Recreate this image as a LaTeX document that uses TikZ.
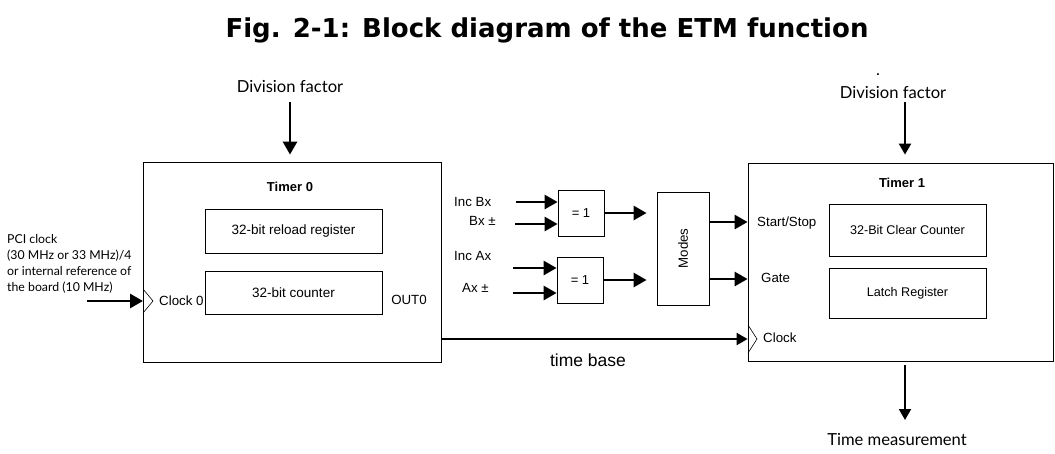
\documentclass[tikz,border=0pt]{standalone}
\usepackage{fontspec}
\setmainfont{Liberation Sans}
\newfontfamily\titlefont{DejaVu Sans}
\newfontfamily\labfont{Lato}
\usetikzlibrary{arrows.meta,positioning}

\begin{document}
\begin{tikzpicture}[x=1pt,y=-1pt,
  blk/.style={draw,line width=0.8pt,inner sep=0pt},
  reg/.style={blk,minimum width=177pt,minimum height=44pt,font=\fontsize{13.5}{15}\selectfont},
  xorbox/.style={blk,minimum width=46pt,minimum height=46pt,font=\fontsize{13}{15}\selectfont},
  lbl/.style={inner sep=0pt,font=\fontsize{13.3}{15}\selectfont},
  side/.style={inner sep=0pt,font=\labfont\fontsize{16.6}{19}\selectfont},
  hd/.style={inner sep=0pt,font=\bfseries\fontsize{13}{15}\selectfont},
  big/.style={line width=2.8pt,-{Triangle[length=13pt,width=14pt]}},
  med/.style={line width=2pt,-{Triangle[length=11pt,width=12pt]}}]
\useasboundingbox (0,0) rectangle (1055,453);

\node[font=\titlefont\bfseries\fontsize{26}{30}\selectfont] (title) at (547,30) {Fig. 2-1: Block diagram of the ETM function};

% timer 0
\node[blk,minimum width=298pt,minimum height=200pt] (t0) at (292,262) {};
\node[hd] (t0name) at (290,187) {Timer 0};
\node[reg] (reload) at (293.5,231) {32-bit reload register};
\node[reg,minimum height=43pt] (cnt) at (293.5,292.5) {32-bit counter};
\node[lbl,anchor=west] (clk0) at (159,301) {Clock 0};
\node[lbl] (out0) at (409,300) {OUT0};
\draw[line width=0.6pt] (143,289) -- (153,301) -- (143,313);
\coordinate (c0) at (143,301);

\node[side] (div0) at (290,87) {Division factor};
\coordinate (d0) at (290,102);
\draw[big,shorten >=7pt] (d0) -- (d0 |- t0.north);

\node[anchor=north west,align=left,inner sep=0pt,font=\labfont\fontsize{12.3}{16}\selectfont] (pci) at (7,234)
  {PCI clock\\(30 MHz or 33 MHz)/4\\or internal reference of\\the board (10 MHz)};
\coordinate (pciin) at (87,301);
\draw[big] (pciin) -- (c0);

% gates and modes
\node[xorbox] (xb) at (581,213) {= 1};
\node[xorbox] (xa) at (580,280) {= 1};
\node[blk,minimum width=52pt,minimum height=113pt] (modes) at (683,248.5) {};
\node[lbl,rotate=90] (modestxt) at (modes.center) {Modes};

\node[lbl,anchor=west] (incb) at (454,202) {Inc Bx};
\node[lbl,anchor=west] (bpm) at (469,221) {Bx ±};
\node[lbl,anchor=west] (inca) at (454,256) {Inc Ax};
\node[lbl,anchor=west] (apm) at (462,288) {Ax ±};

\coordinate (ib1) at (516,202);
\coordinate (ib2) at (515,224);
\coordinate (ia1) at (513,268);
\coordinate (ia2) at (513,293);
\draw[big] (ib1) -- (ib1 -| xb.west);
\draw[big] (ib2) -- (ib2 -| xb.west);
\draw[big] (ia1) -- (ia1 -| xa.west);
\draw[big] (ia2) -- (ia2 -| xa.west);
\draw[big,shorten >=10pt] (xb.east) -- (xb.east -| modes.west);
\draw[big,shorten >=10pt] (xa.east) -- (xa.east -| modes.west);

% timer 1
\node[blk,minimum width=305pt,minimum height=198pt] (t1) at (900.5,262) {};
\node[hd] (t1name) at (902,183) {Timer 1};
\node[reg,minimum width=157pt,minimum height=52pt,font=\fontsize{12.6}{14}\selectfont] (clear) at (907.5,230) {32-Bit Clear Counter};
\node[reg,minimum width=157pt,minimum height=50pt,font=\fontsize{12.6}{14}\selectfont] (latch) at (907.5,293) {Latch Register};
\node[lbl,anchor=west] (ss) at (757,223) {Start/Stop};
\node[lbl,anchor=west] (gate) at (761,278) {Gate};
\node[lbl,anchor=west] (clk1) at (763,338) {Clock};
\draw[line width=0.6pt] (748,325) -- (757,339) -- (748,353);

\coordinate (rowss) at (0,222);
\coordinate (rowg) at (0,279);
\coordinate (tb) at (0,339);
\draw[big] (modes.east |- rowss) -- (t1.west |- rowss);
\draw[big] (modes.east |- rowg) -- (t1.west |- rowg);
\draw[med] (t0.east |- tb) -- (t1.west |- tb);
\node[inner sep=0pt,font=\fontsize{17.5}{19}\selectfont] (tbase) at (588,360) {time base};

\node[inner sep=0pt,font=\bfseries\fontsize{12}{12}\selectfont] (dot) at (878,75) {.};
\node[side] (div1) at (893,93) {Division factor};
\coordinate (d1) at (905,102);
\draw[med,shorten >=8pt] (d1) -- (d1 |- t1.north);
\coordinate (m1) at (905,420);
\draw[med,shorten <=4pt] (m1 |- t1.south) -- (m1);
\node[side] (meas) at (897,440) {Time measurement};
\end{tikzpicture}
\end{document}
